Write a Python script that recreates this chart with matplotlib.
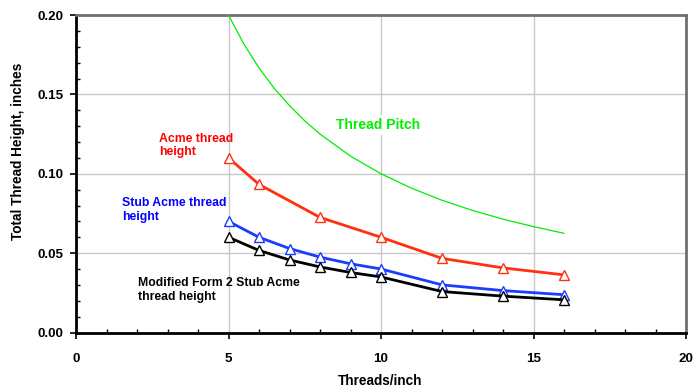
import matplotlib
matplotlib.use("Agg")
import matplotlib.pyplot as plt
from matplotlib.ticker import MultipleLocator

plt.rcParams['font.family'] = ['Liberation Sans', 'DejaVu Sans']
plt.rcParams['font.weight'] = 'bold'

# Data
pitch_tpi = [5, 5.5, 6, 6.5, 7, 7.5, 8, 9, 10, 11, 12, 13, 14, 15, 16]
pitch_val = [0.2, 0.1818, 0.1667, 0.1538, 0.1429, 0.1333, 0.125, 0.1111, 0.1,
             0.0909, 0.0833, 0.0769, 0.0714, 0.0667, 0.0625]

acme_tpi = [5, 6, 8, 10, 12, 14, 16]
acme_h = [0.110, 0.0933, 0.0725, 0.060, 0.0467, 0.0407, 0.0363]

stub_tpi = [5, 6, 7, 8, 9, 10, 12, 14, 16]
stub_h = [0.070, 0.060, 0.0529, 0.0475, 0.0433, 0.040, 0.030, 0.0264, 0.0238]

mod_tpi = [5, 6, 7, 8, 9, 10, 12, 14, 16]
mod_h = [0.060, 0.0517, 0.0457, 0.0413, 0.0378, 0.035, 0.0258, 0.0229, 0.0206]

W, H = 693, 387
fig = plt.figure(figsize=(W/100, H/100), dpi=100)
ax = fig.add_axes([76/W, 1-332.5/H, 610/W, 317.5/H])

ax.set_xlim(0, 20)
ax.set_ylim(0, 0.20)

ax.grid(True, color='#c8c8c8', linewidth=1)
ax.set_axisbelow(True)

ax.plot(pitch_tpi, pitch_val, color='#00ee00', linewidth=0.9, zorder=3)
ax.plot(acme_tpi, acme_h, color='#ff3010', linewidth=2, marker='^', markersize=7,
        markerfacecolor='white', markeredgecolor='#ff3010', markeredgewidth=1, zorder=4)
ax.plot(stub_tpi, stub_h, color='#1a3cff', linewidth=2, marker='^', markersize=7,
        markerfacecolor='white', markeredgecolor='#1a3cff', markeredgewidth=1, zorder=4)
ax.plot(mod_tpi, mod_h, color='black', linewidth=2, marker='^', markersize=7,
        markerfacecolor='white', markeredgecolor='black', markeredgewidth=1, zorder=4)

ax.xaxis.set_major_locator(MultipleLocator(5))
ax.xaxis.set_minor_locator(MultipleLocator(1))
ax.yaxis.set_major_locator(MultipleLocator(0.05))
ax.yaxis.set_minor_locator(MultipleLocator(0.01))
ax.set_yticks(ax.get_yticks())
ax.set_yticklabels([f"{v:.2f}" for v in ax.get_yticks()])
ax.set_xticks(ax.get_xticks())
ax.set_xticklabels([f"{int(v)}" for v in ax.get_xticks()])
ax.set_xlim(0, 20)
ax.set_ylim(0, 0.20)

ax.tick_params(axis='both', which='major', direction='out', length=4, width=1.2,
               labelsize=9.6)
ax.tick_params(axis='x', which='major', pad=11)
ax.tick_params(axis='y', which='major', pad=5)
ax.tick_params(axis='both', which='minor', direction='in', length=3, width=1)
for lab in ax.get_xticklabels() + ax.get_yticklabels():
    lab.set_fontweight('bold')

for s in ['left', 'bottom']:
    ax.spines[s].set_color('black')
    ax.spines[s].set_linewidth(2)
for s in ['top', 'right']:
    ax.spines[s].set_color('#707070')
    ax.spines[s].set_linewidth(2)

fig.text(380/W, 1-385/H, 'Threads/inch', fontsize=9.8, fontweight='bold',
         ha='center', va='baseline')
fig.text(18/W, 1-151/H, 'Total Thread Height, inches', fontsize=9.8,
         fontweight='bold', ha='center', va='center', rotation=90)

ax.text(2.71, 0.118, 'Acme thread\nheight', color='#ff0000', fontsize=8.8,
        fontweight='bold', va='center', ha='left', linespacing=1.15)
ax.text(8.52, 0.1307, 'Thread Pitch', color='#00ee00', fontsize=10,
        fontweight='bold', va='center', ha='left',
        bbox=dict(facecolor='white', edgecolor='none', pad=2), zorder=5)
ax.text(1.51, 0.0772, 'Stub Acme thread\nheight', color='#0000ff', fontsize=8.8,
        fontweight='bold', va='center', ha='left', linespacing=1.15)
ax.text(2.03, 0.0268, 'Modified Form 2 Stub Acme\nthread height', color='black',
        fontsize=8.8, fontweight='bold', va='center', ha='left', linespacing=1.15)

fig.savefig('out.png', dpi=100)
